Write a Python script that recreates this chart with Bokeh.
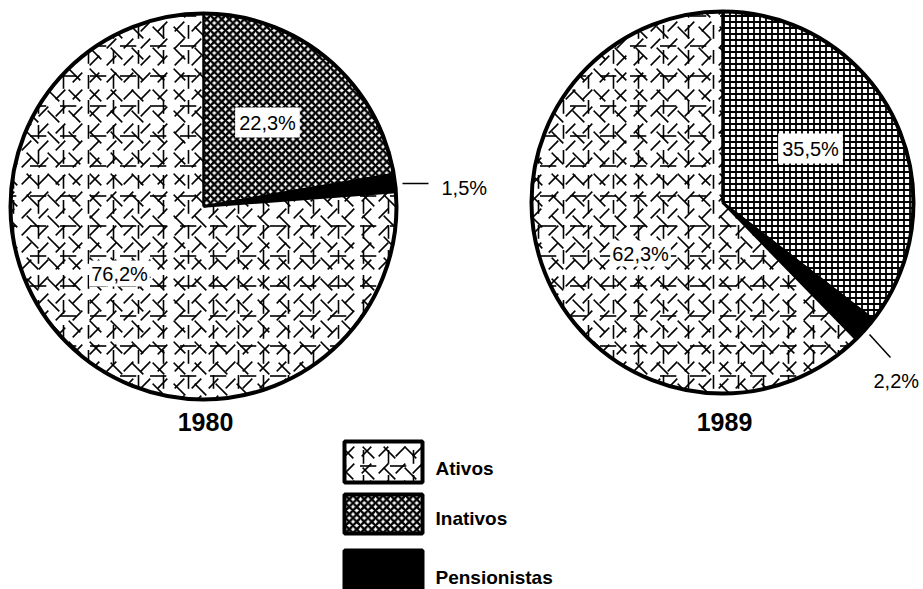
import math
from bokeh.plotting import figure
from bokeh.models import Range1d, Label
from bokeh.embed import file_html
from bokeh.resources import INLINE

# ---- data ----
years = ["1980", "1989"]
categories = ["Inativos", "Pensionistas", "Ativos"]
share_1980 = [22.3, 1.5, 76.2]
share_1989 = [35.5, 2.2, 62.3]
legend_labels = ["Ativos", "Inativos", "Pensionistas"]

W, H = 923, 589
def px(x):  # page px -> data x
    return x
def py(y):  # page px -> data y
    return H - y

p = figure(width=W, height=H, output_backend="svg", toolbar_location=None,
           x_range=Range1d(0, W), y_range=Range1d(0, H), min_border=0,
           x_axis_location=None, y_axis_location=None)
p.grid.visible = False
p.outline_line_color = None
p.background_fill_color = "white"

# scattered short dashes for "Ativos": several dash hatches layered
ativos_layers = [
    dict(hatch_pattern="right_diagonal_dash", hatch_scale=17, hatch_weight=1.6),
    dict(hatch_pattern="left_diagonal_dash", hatch_scale=21, hatch_weight=1.6),
    dict(hatch_pattern="vertical_dash", hatch_scale=25, hatch_weight=1.6),
    dict(hatch_pattern="horizontal_dash", hatch_scale=30, hatch_weight=1.6),
]
inativos_style = {
    "1980": dict(hatch_pattern="diagonal_cross", hatch_scale=7.5, hatch_weight=2.4,
                 hatch_color="black"),
    "1989": dict(hatch_pattern="cross", hatch_scale=6, hatch_weight=1.8,
                 hatch_color="black"),
}

pies = [
    dict(year="1980", shares=share_1980, cx=px(203), cy=py(206), r=193),
    dict(year="1989", shares=share_1989, cx=px(722), cy=py(202), r=191),
]

for pie in pies:
    a = math.pi / 2
    bounds = []
    for s in pie["shares"]:
        b = a - s / 100 * 2 * math.pi
        bounds.append((a, b))
        a = b
    cx, cy, r = pie["cx"], pie["cy"], pie["r"]
    for cat, (a0, a1) in zip(categories, bounds):
        if cat == "Ativos":
            for i, lay in enumerate(ativos_layers):
                p.wedge(x=[cx], y=[cy], radius=r, start_angle=a1, end_angle=a0,
                        fill_color="white" if i == 0 else None,
                        line_color=None, hatch_color="black", **lay)
        elif cat == "Inativos":
            p.wedge(x=[cx], y=[cy], radius=r, start_angle=a1, end_angle=a0,
                    fill_color="white", line_color=None,
                    **inativos_style[pie["year"]])
        else:
            p.wedge(x=[cx], y=[cy], radius=r, start_angle=a1, end_angle=a0,
                    fill_color="black", line_color="black", line_width=2)
    # radial boundary lines
    for a0, _ in bounds:
        p.segment(x0=[cx], y0=[cy], x1=[cx + r * math.cos(a0)], y1=[cy + r * math.sin(a0)],
                  line_color="black", line_width=2.5)
    p.circle(x=[cx], y=[cy], radius=r, fill_color=None, line_color="black", line_width=4)

def pct(v):
    return f"{v:.1f}%".replace(".", ",")

# percentage labels
inner = [
    (share_1980[0], 267, 122, 4),
    (share_1980[2], 119, 273, 2),
    (share_1989[0], 810, 148, 4),
    (share_1989[2], 640, 253, 2),
]
for v, x, y, pad in inner:
    p.add_layout(Label(x=px(x), y=py(y), text=pct(v), text_align="center",
                       text_baseline="middle", text_font="Liberation Sans",
                       text_font_size="20px", text_color="black",
                       background_fill_color="white", padding=pad))

outer = [
    (share_1980[1], 441, 187),
    (share_1989[1], 873, 380),
]
for v, x, y in outer:
    p.add_layout(Label(x=px(x), y=py(y), text=pct(v), text_align="left",
                       text_baseline="middle", text_font="Liberation Sans",
                       text_font_size="20px", text_color="black"))

# leader lines
p.segment(x0=[px(402), px(869)], y0=[py(183), py(334)],
          x1=[px(428), px(890)], y1=[py(183), py(357)],
          line_color="black", line_width=1.5)

# year titles
for yr, x, y in zip(years, [205, 724], [421, 421]):
    p.add_layout(Label(x=px(x), y=py(y), text=yr, text_align="center",
                       text_baseline="middle", text_font="Liberation Sans",
                       text_font_size="25px", text_font_style="bold",
                       text_color="black"))

# legend
box_tops = [441, 494, 550]
box_bots = [482, 533, 600]
for i, lab in enumerate(legend_labels):
    l, r_ = px(344), px(422)
    t, b = py(box_tops[i]), py(box_bots[i])
    if lab == "Ativos":
        for j, lay in enumerate(ativos_layers):
            p.quad(left=[l], right=[r_], top=[t], bottom=[b],
                   fill_color="white" if j == 0 else None, line_color=None,
                   hatch_color="black", **lay)
        p.quad(left=[l], right=[r_], top=[t], bottom=[b], fill_color=None,
               line_color="black", line_width=4)
    elif lab == "Inativos":
        p.quad(left=[l], right=[r_], top=[t], bottom=[b], fill_color="white",
               line_color="black", line_width=4, **inativos_style["1980"])
    else:
        p.quad(left=[l], right=[r_], top=[t], bottom=[b], fill_color="black",
               line_color="black", line_width=4)

for lab, y in zip(legend_labels, [468, 518, 577]):
    p.add_layout(Label(x=px(435), y=py(y), text=lab, text_align="left",
                       text_baseline="middle", text_font="Liberation Sans",
                       text_font_size="19px", text_font_style="bold",
                       text_color="black"))

open("out.html", "w").write(file_html(p, INLINE))
